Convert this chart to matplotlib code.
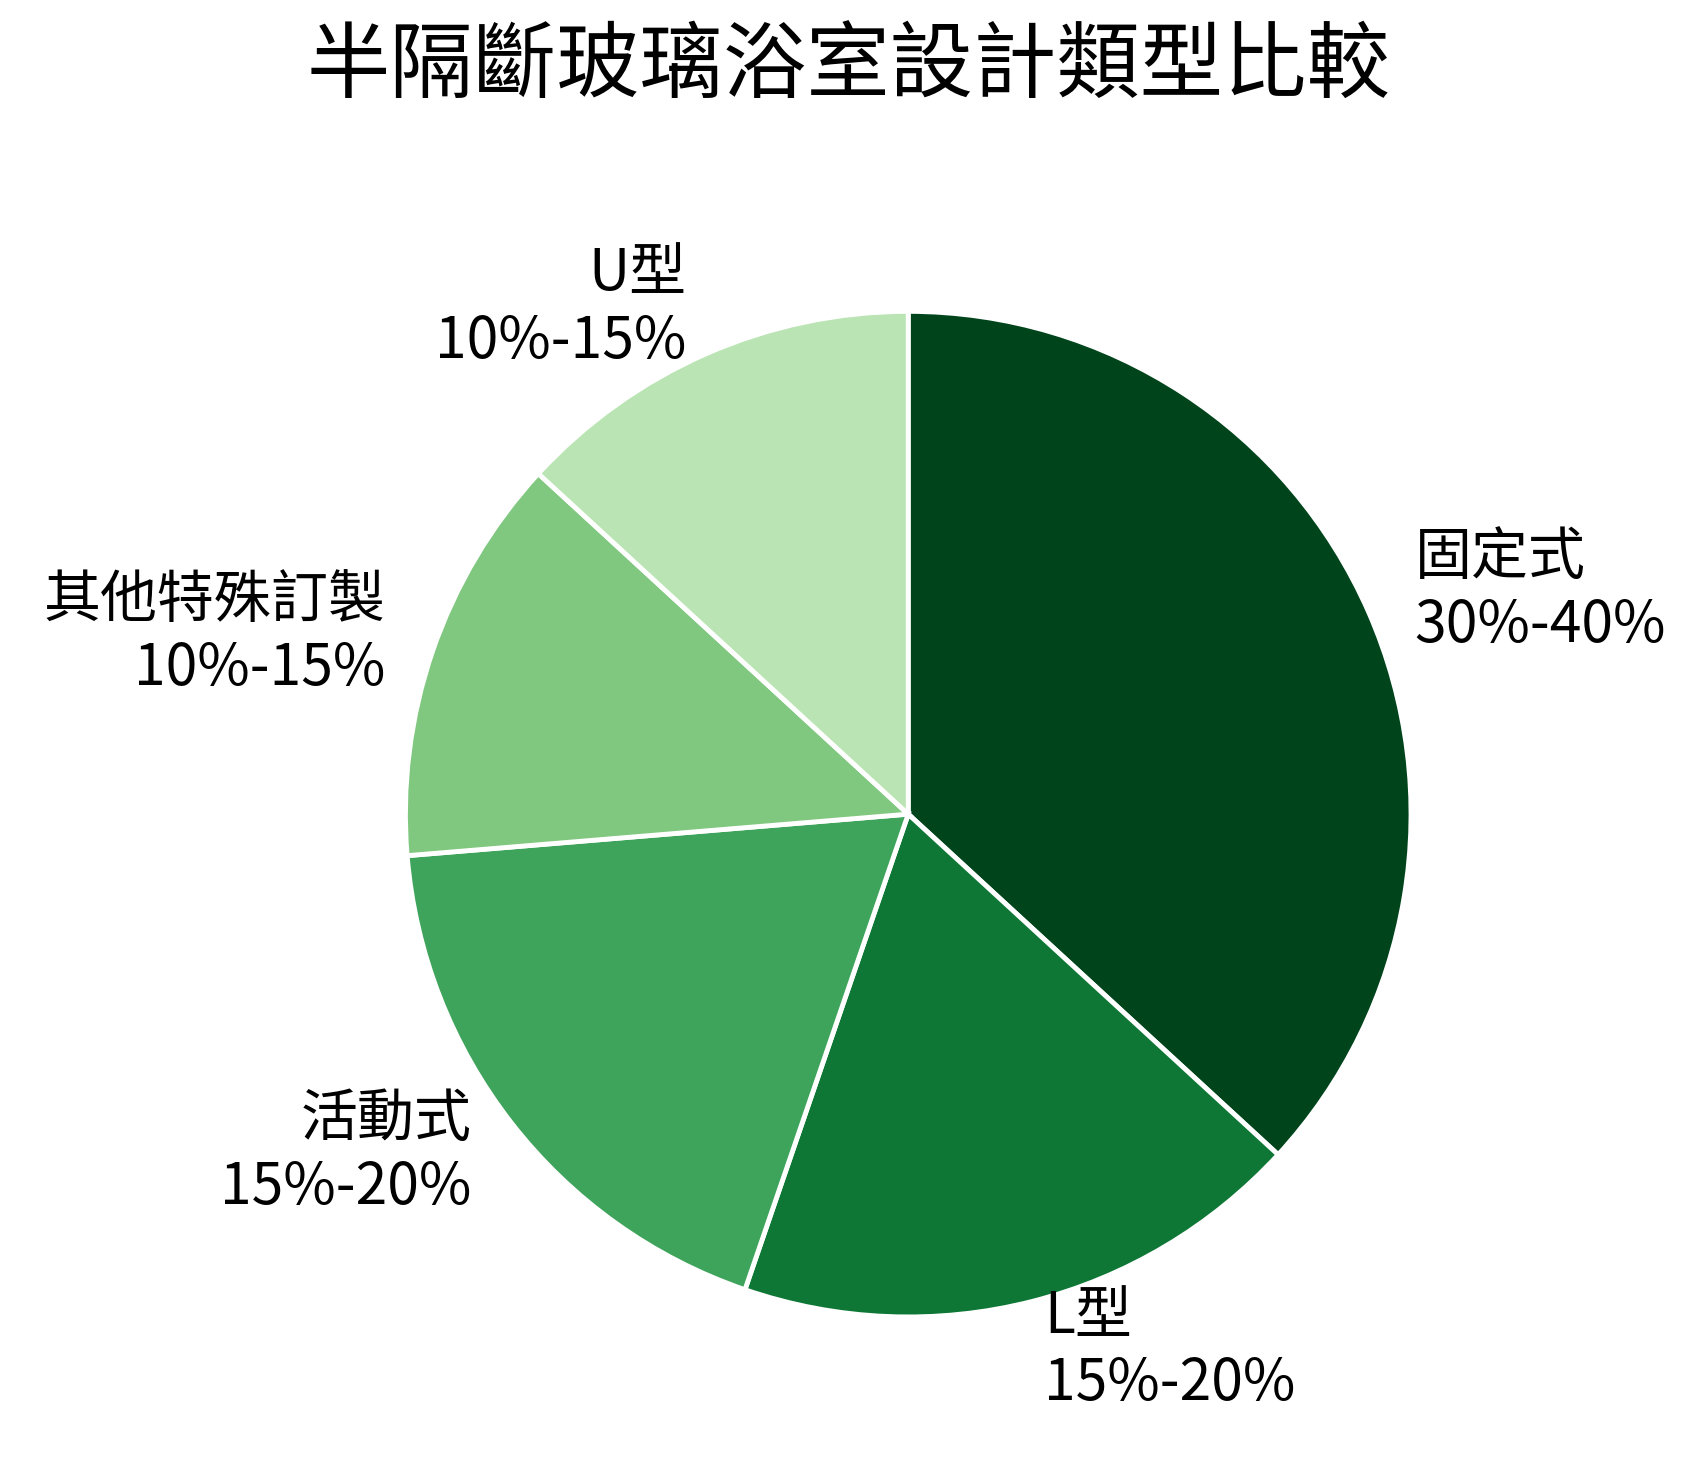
import matplotlib
matplotlib.use("Agg")
import matplotlib.pyplot as plt

plt.rcParams['font.family'] = ['Noto Sans CJK TC', 'DejaVu Sans']

# 各設計類型（取區間中間值作為比例）
categories = ["固定式", "L型", "活動式", "其他特殊訂製", "U型"]
ranges = ["30%-40%", "15%-20%", "15%-20%", "10%-15%", "10%-15%"]
values = [35, 17.5, 17.5, 12.5, 12.5]
colors = ["#00441b", "#0e7735", "#3fa45b", "#80c780", "#bae4b3"]

labels = [f"{c}\n{r}" for c, r in zip(categories, ranges)]

fig = plt.figure(figsize=(16.97, 14.68), dpi=100)
ax = fig.add_axes([0.2387, 0.1029, 0.593, 0.685])
ax.pie(values, labels=labels, colors=colors, startangle=90, counterclock=False,
       labeldistance=1.1, wedgeprops=dict(edgecolor="white", linewidth=3.5),
       textprops=dict(fontsize=41))
ax.set_aspect("equal")
ax.set_xlim(-1, 1)
ax.set_ylim(-1, 1)

fig.text(0.5, 0.954, "半隔斷玻璃浴室設計類型比較", fontsize=60, ha="center", va="center")

fig.savefig("out.png", dpi=100)
